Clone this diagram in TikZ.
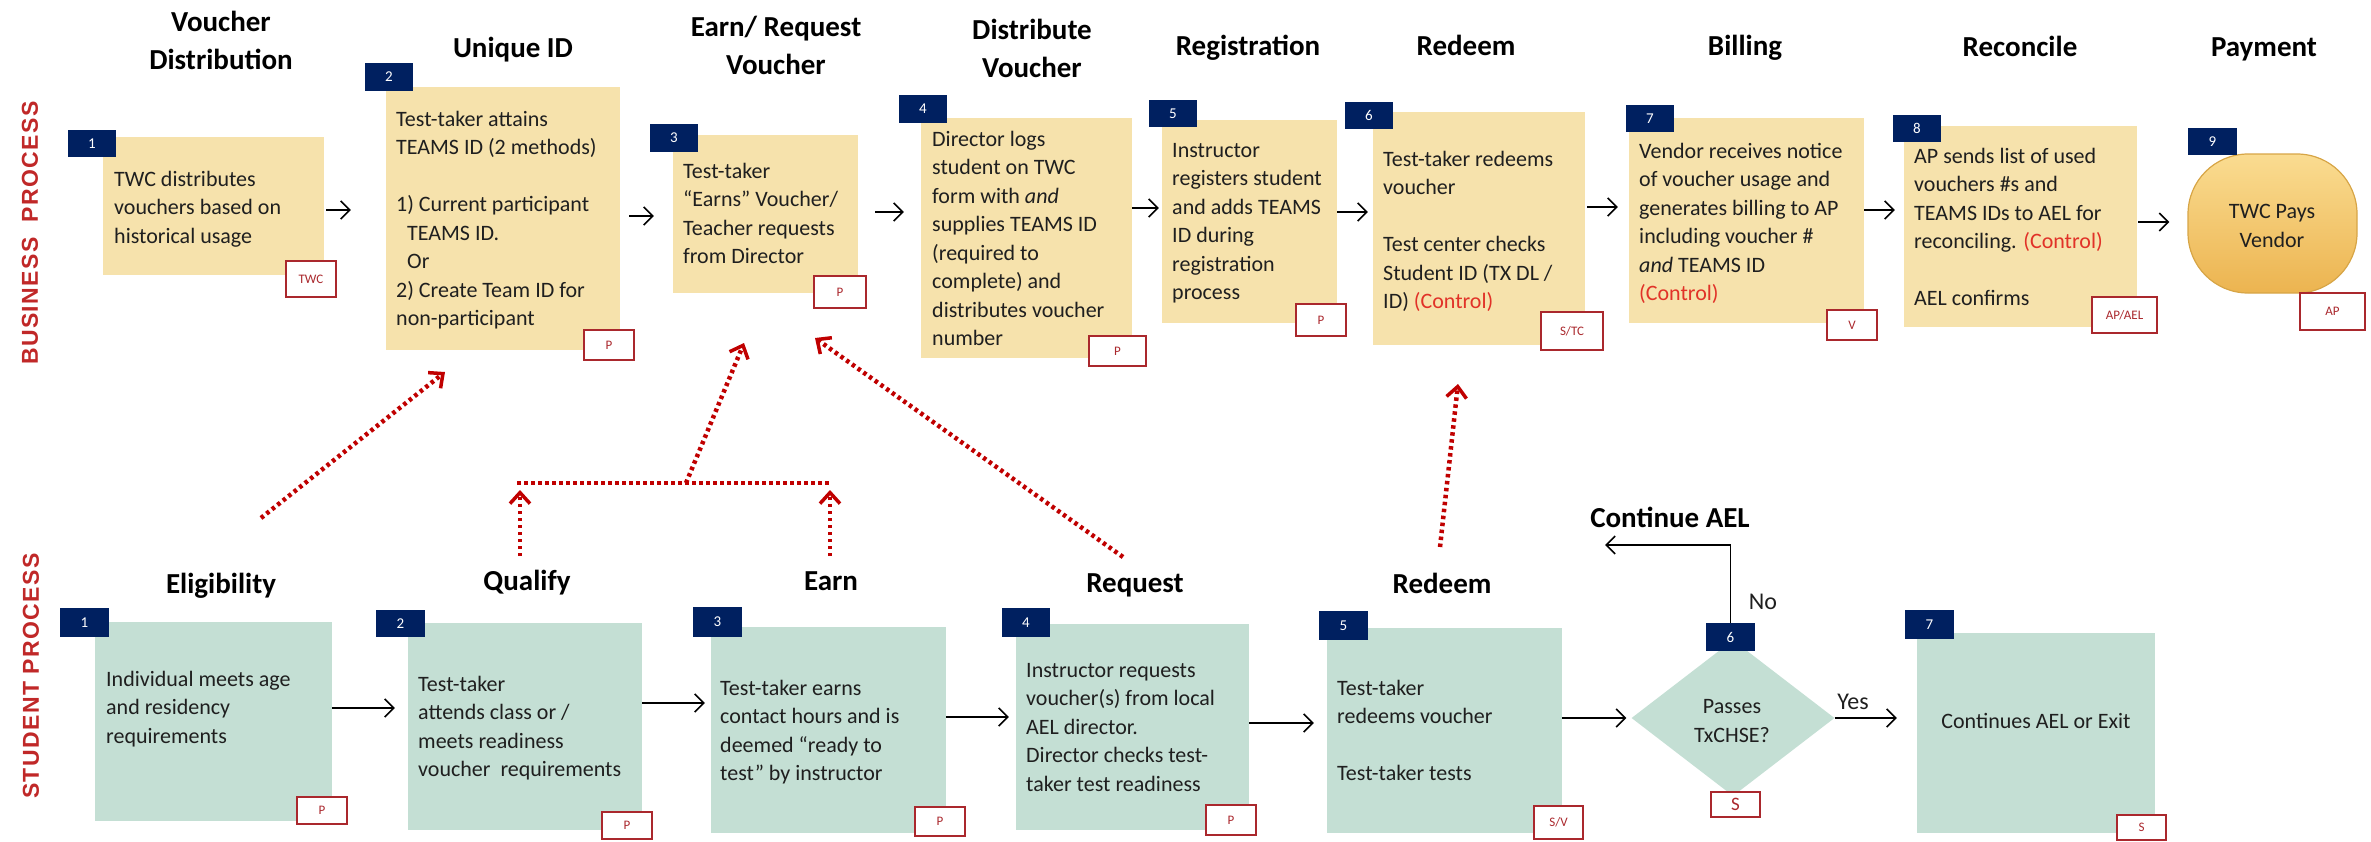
\documentclass[tikz,border=0pt]{standalone}
\usepackage{fontspec}
\setmainfont{Carlito}
\newfontfamily\sidefont[LetterSpace=6]{Liberation Sans}
\usetikzlibrary{arrows.meta,shapes.geometric}
\definecolor{bpfill}{RGB}{246,226,172}
\definecolor{spfill}{RGB}{196,223,212}
\definecolor{navy}{RGB}{0,32,96}
\definecolor{tagred}{RGB}{170,40,45}
\definecolor{ctrlred}{RGB}{225,50,40}
\definecolor{dotred}{RGB}{192,0,0}
\definecolor{sidered}{RGB}{192,40,40}
\definecolor{goldtop}{RGB}{250,220,145}
\definecolor{goldbot}{RGB}{236,180,80}
\definecolor{goldline}{RGB}{215,165,70}
\newcommand\placebox[7][]{\node[#1, minimum width={(#5-#3)*1pt}, minimum height={(#6-#4)*1pt}] (#2) at ({(#3+#5)/2},{(#4+#6)/2}) {#7};}
\newcommand\ctl{\textcolor{ctrlred}{(Control)}}
\tikzset{
  bpbox/.style={fill=bpfill, draw=none, inner sep=0pt},
  spbox/.style={fill=spfill, draw=none, inner sep=0pt},
  badge/.style={fill=navy, text=white, inner sep=0pt, font=\fontsize{15}{15}\selectfont},
  tagb/.style={draw=tagred, line width=1.8pt, fill=white, text=tagred, inner sep=0pt, font=\fontsize{13}{13}\selectfont},
  body/.style={font=\fontsize{22}{28.5}\selectfont, align=left, inner sep=0pt, anchor=north west, text=black!88, execute at begin node=\strut},
  ctext/.style={font=\fontsize{22}{28.5}\selectfont, align=center, inner sep=0pt, text=black!88},
  ttl/.style={font=\bfseries\fontsize{29}{38}\selectfont, align=center, inner sep=0pt, anchor=north, execute at begin node=\strut},
  side/.style={rotate=90, text=sidered, inner sep=0pt, font=\sidefont\bfseries\fontsize{23}{23}\selectfont},
  arr/.style={line width=1.6pt, -{Straight Barb[length=9pt,width=18pt]}},
  dotline/.style={dotred, line width=4.5pt, dash pattern=on 3.5pt off 3.5pt},
  dotarr/.style={dotline, -{Straight Barb[length=11pt,width=20pt,line width=3.5pt]}},
}
\begin{document}
\begin{tikzpicture}[x=1pt,y=-1pt]
\useasboundingbox (0,0) rectangle (2371,841);

% side labels
\node[side] (bpLabel) at (30,233) {BUSINESS\ \ PROCESS};
\node[side] (spLabel) at (31,676) {STUDENT PROCESS};

% titles business
\node[ttl] (tVD) at (221,11) {Voucher\\Distribution};
\node[ttl] (tUID) at (513,31) {Unique ID};
\node[ttl] (tER) at (776,16) {Earn/ Request\\Voucher};
\node[ttl] (tDV) at (1032,19) {Distribute\\Voucher};
\node[ttl] (tReg) at (1248,29) {Registration};
\node[ttl] (tRed) at (1466,29) {Redeem};
\node[ttl] (tBill) at (1745,29) {Billing};
\node[ttl] (tRec) at (2020,30) {Reconcile};
\node[ttl] (tPay) at (2264,30) {Payment};
% titles student
\node[ttl] (tElig) at (221,566.4) {Eligibility};
\node[ttl] (tQual) at (527,563.4) {Qualify};
\node[ttl] (tEarn) at (831,563.4) {Earn};
\node[ttl] (tReq) at (1135,565.4) {Request};
\node[ttl] (tRed2) at (1442,566.4) {Redeem};
\node[ttl] (tCont) at (1670,500.4) {Continue AEL};

% business boxes
\placebox[bpbox]{b1}{103}{137}{324}{275}{}
\placebox[bpbox]{b2}{386}{87}{620}{350}{}
\placebox[bpbox]{b3}{673}{135}{858}{293}{}
\placebox[bpbox]{b4}{921}{118}{1132}{358}{}
\placebox[bpbox]{b5}{1162}{120}{1337}{323}{}
\placebox[bpbox]{b6}{1373}{112}{1585}{345}{}
\placebox[bpbox]{b7}{1629}{118}{1864}{323}{}
\placebox[bpbox]{b8}{1904}{126}{2137}{327}{}
\placebox[draw=goldline, line width=1.2pt, rounded corners=60pt, top color=goldtop, bottom color=goldbot, inner sep=0pt]{b9}{2188}{154}{2357}{293}{}

% student boxes
\placebox[spbox]{s1}{95}{622}{332}{821}{}
\placebox[spbox]{s2}{408}{623}{642}{830}{}
\placebox[spbox]{s3}{711}{627}{946}{833}{}
\placebox[spbox]{s4}{1016}{624}{1249}{830}{}
\placebox[spbox]{s5}{1327}{628}{1562}{833}{}
\node[diamond, fill=spfill, draw=none, inner sep=0pt, minimum width=203pt, minimum height=156pt] (s6) at (1733,718) {};
\placebox[spbox]{s7}{1917}{633}{2155}{833}{}

% business texts
\node[body] (tx1) at (114,171) {TWC distributes\\vouchers based on\\historical usage};
\node[body] (tx2) at (396,111) {Test-taker attains\\TEAMS ID (2 methods)\\[28.5pt]1) Current participant\\\hspace*{11pt}TEAMS ID.\\\hspace*{11pt}Or\\2) Create Team ID for\\non-participant};
\node[body] (tx3) at (683,163) {Test-taker\\“Earns” Voucher/\\Teacher requests\\from Director};
\node[body] (tx4) at (932,131) {Director logs\\student on TWC\\form with \textit{and}\\supplies TEAMS ID\\(required to\\complete) and\\distributes voucher\\number};
\node[body] (tx5) at (1172,143) {Instructor\\registers student\\and adds TEAMS\\ID during\\registration\\process};
\node[body] (tx6) at (1383,151) {Test-taker redeems\\voucher\\[28.5pt]Test center checks\\Student ID (TX DL /\\ID) \ctl};
\node[body] (tx7) at (1639,143) {Vendor receives notice\\of voucher usage and\\generates billing to AP\\including voucher \#\\\textit{and} TEAMS ID\\\ctl};
\node[body] (tx8) at (1914,148) {AP sends list of used\\vouchers \#s and\\TEAMS IDs to AEL for\\reconciling. \ctl\\[28.5pt]AEL confirms};
\node[ctext] (tx9) at (2272,226) {TWC Pays\\Vendor};

% student texts
\node[body] (sx1) at (106,671) {Individual meets age\\and residency\\requirements};
\node[body] (sx2) at (418,676) {Test-taker\\attends class or /\\meets readiness\\voucher\ \ requirements};
\node[body] (sx3) at (720,680) {Test-taker earns\\contact hours and is\\deemed “ready to\\test” by instructor};
\node[body] (sx4) at (1026,663) {Instructor requests\\voucher(s) from local\\AEL director.\\Director checks test-\\taker test readiness};
\node[body] (sx5) at (1337,680) {Test-taker\\redeems voucher\\[28.5pt]Test-taker tests};
\node[ctext] (sx6) at (1732,721) {Passes\\TxCHSE?};
\node[ctext] (sx7) at (2036,721) {Continues AEL or Exit};

% badges business
\placebox[badge]{bb1}{68}{130}{116}{157}{1}
\placebox[badge]{bb2}{365}{63}{413}{91}{2}
\placebox[badge]{bb3}{650}{124}{698}{152}{3}
\placebox[badge]{bb4}{899}{95}{947}{123}{4}
\placebox[badge]{bb5}{1149}{100}{1197}{127}{5}
\placebox[badge]{bb6}{1345}{102}{1393}{129}{6}
\placebox[badge]{bb7}{1626}{105}{1674}{132}{7}
\placebox[badge]{bb8}{1893}{115}{1941}{142}{8}
\placebox[badge]{bb9}{2188}{128}{2237}{155}{9}
% badges student
\placebox[badge]{sb1}{60}{608}{109}{637}{1}
\placebox[badge]{sb2}{376}{610}{425}{637}{2}
\placebox[badge]{sb3}{693}{607}{742}{637}{3}
\placebox[badge]{sb4}{1002}{608}{1050}{637}{4}
\placebox[badge]{sb5}{1319}{611}{1368}{640}{5}
\placebox[badge]{sb6}{1706}{623}{1755}{651}{6}
\placebox[badge]{sb7}{1905}{610}{1954}{639}{7}

% tags business
\placebox[tagb]{g1}{286}{261}{336}{297}{TWC}
\placebox[tagb]{g2}{584}{330}{634}{360}{P}
\placebox[tagb]{g3}{814}{276}{866}{308}{P}
\placebox[tagb]{g4}{1089}{336}{1146}{366}{P}
\placebox[tagb]{g5}{1296}{304}{1346}{336}{P}
\placebox[tagb]{g6}{1541}{312}{1603}{350}{S/TC}
\placebox[tagb]{g7}{1827}{310}{1877}{340}{V}
\placebox[tagb]{g8}{2092}{297}{2157}{333}{AP/AEL}
\placebox[tagb]{g9}{2300}{293}{2365}{330}{AP}
% tags student
\placebox[tagb]{h1}{297}{797}{347}{824}{P}
\placebox[tagb]{h2}{602}{812}{652}{839}{P}
\placebox[tagb]{h3}{915}{807}{965}{836}{P}
\placebox[tagb]{h4}{1206}{805}{1256}{835}{P}
\placebox[tagb]{h5}{1534}{806}{1583}{839}{S/V}
\placebox[tagb, font=\fontsize{19}{19}\selectfont]{h6}{1711}{792}{1760}{817}{S}
\placebox[tagb]{h7}{2117}{815}{2166}{840}{S}

% business arrows
\draw[arr, shorten <=2pt, shorten >=35pt] (b1.east |- 0,210) -- (b2.west |- 0,210);
\draw[arr, shorten <=9pt, shorten >=19pt] (b2.east |- 0,216) -- (b3.west |- 0,216);
\draw[arr, shorten <=17pt, shorten >=17pt] (b3.east |- 0,212) -- (b4.west |- 0,212);
\draw[arr, shorten >=3pt] (b4.east |- 0,208) -- (b5.west |- 0,208);
\draw[arr, shorten >=5pt] (b5.east |- 0,212) -- (b6.west |- 0,212);
\draw[arr, shorten <=2pt, shorten >=11pt] (b6.east |- 0,207) -- (b7.west |- 0,207);
\draw[arr, shorten >=9pt] (b7.east |- 0,210) -- (b8.west |- 0,210);
\draw[arr, shorten <=1pt, shorten >=18pt] (b8.east |- 0,222) -- (b9.west |- 0,222);

% student arrows
\draw[arr, shorten >=13pt] (s1.east |- 0,708) -- (s2.west |- 0,708);
\draw[arr, shorten >=6pt] (s2.east |- 0,703) -- (s3.west |- 0,703);
\draw[arr, shorten >=7pt] (s3.east |- 0,717) -- (s4.west |- 0,717);
\draw[arr, shorten >=13pt] (s4.east |- 0,723) -- (s5.west |- 0,723);
\draw[arr, shorten >=5pt] (s5.east |- 0,718) -- (s6.west);
\draw[arr, shorten >=20pt] (s6.east) -- (s7.west |- s6.east);
\node[font=\fontsize{24}{24}\selectfont, inner sep=0pt, text=black!88] (yesL) at (1853,702) {Yes};
\coordinate (noEnd) at (1605,545);
\draw[arr] (sb6.north) -- (sb6.north |- noEnd) -- (noEnd);
\node[font=\fontsize{24}{24}\selectfont, inner sep=0pt, text=black!88] (noL) at (1763,602) {No};

% dotted red connectors
\coordinate (eligA) at (261,518);
\coordinate (tipA) at (445,372);
\draw[dotarr] (eligA) -- (tipA);
\coordinate (brL) at (517,483);
\coordinate (brR) at (832,483);
\coordinate (brM) at (686,483);
\coordinate (tipB) at (744,343);
\draw[dotline] (brL) -- (brR);
\draw[dotarr] (brM) -- (tipB);
\coordinate (qualA) at (520,556);
\coordinate (qualB) at (520,490);
\draw[dotarr] (qualA) -- (qualB);
\coordinate (earnA) at (830,556);
\coordinate (earnB) at (830,490);
\draw[dotarr] (earnA) -- (earnB);
\coordinate (reqA) at (1123,557);
\coordinate (tipC) at (815,338);
\draw[dotarr] (reqA) -- (tipC);
\coordinate (redA) at (1440,547);
\coordinate (tipD) at (1458,384);
\draw[dotarr] (redA) -- (tipD);
\end{tikzpicture}
\end{document}
